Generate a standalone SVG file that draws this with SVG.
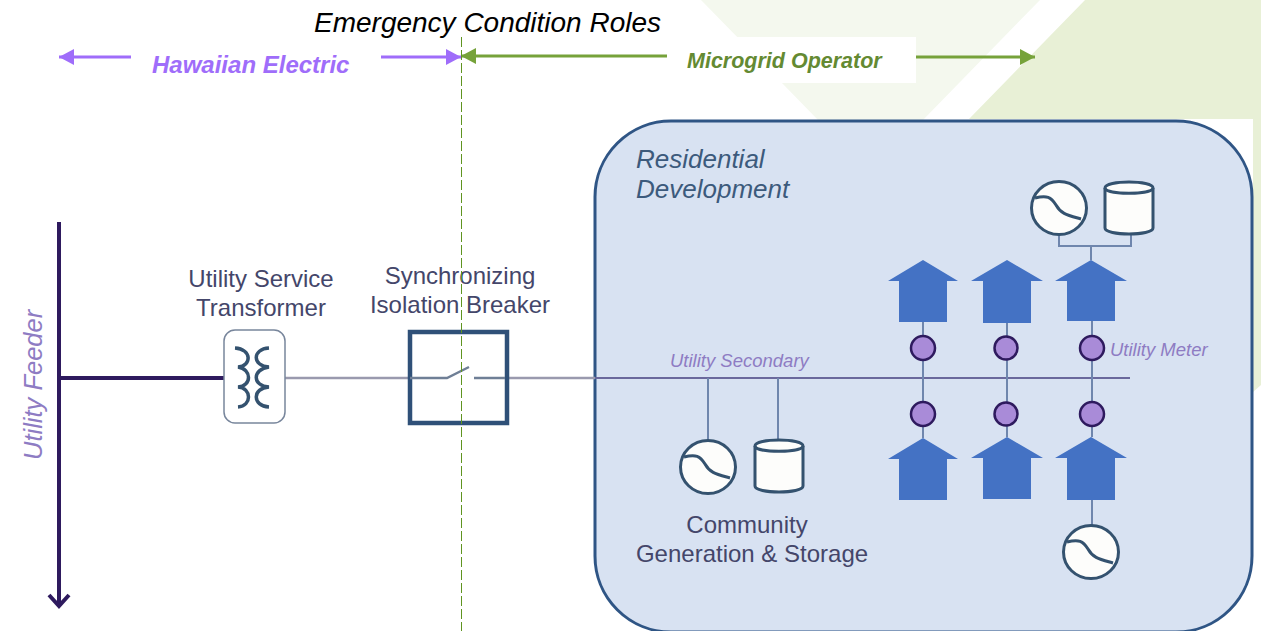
<svg xmlns="http://www.w3.org/2000/svg" width="1261" height="631" viewBox="0 0 1261 631">
<style>
text{font-family:"Liberation Sans",Arial,sans-serif}
.lbl{fill:#44466a;font-size:24px;text-anchor:middle}
.it{fill:#3c5a7c;font-size:26px;font-style:italic}
.pur{fill:#8e7cc3;font-style:italic}
.sym{fill:#fdfdfb;stroke:#34526f;stroke-width:3}
.wire{fill:none;stroke:#6f86ad;stroke-width:2}
.house{fill:#4472c4}
.meter{fill:#a98bd8;stroke:#2e1a5e;stroke-width:2.5}
.curve{fill:none;stroke:#34526f;stroke-width:3}
.coil{fill:none;stroke:#34526f;stroke-width:3.5}
</style>
<defs>
<marker id="ap" markerUnits="userSpaceOnUse" markerWidth="16" markerHeight="16" refX="15" refY="8" orient="auto-start-reverse"><path d="M0 0L15 8L0 16Z" fill="#9f6dfa"/></marker>
<marker id="ag" markerUnits="userSpaceOnUse" markerWidth="16" markerHeight="16" refX="15" refY="8" orient="auto-start-reverse"><path d="M0 0L15 8L0 16Z" fill="#76a23a"/></marker>
<symbol id="gen" overflow="visible"><ellipse class="sym" cx="0" cy="0" rx="27.500" ry="26.500"/><path class="curve" d="M-24-10C-12-13-8-11-3-3C2 6 8 7 22 11"/></symbol>
<symbol id="cyl" overflow="visible"><path class="sym" d="M-24-20C-24-28 24-28 24-20V20C24 28-24 28-24 20Z"/><path class="curve" d="M-24-20C-24-13 24-13 24-20"/></symbol>
</defs>
<rect width="1261" height="631" fill="#fff"/>
<g id="background">
<path d="M701 0H1040L923 120H818Z" fill="#f4f8ee"/>
<path d="M1085 0H1261V385L1253 392V119H969Z" fill="#e8f0d6"/>
<rect x="666" y="37" width="250" height="46" fill="#fff"/>
</g>
<g id="residential-development">
<rect x="595" y="121" width="657" height="511" rx="76" ry="76" fill="#d8e2f2" stroke="#2f5585" stroke-width="3"/>
<text class="it" x="636" y="168">Residential</text>
<text class="it" x="636" y="198">Development</text>
</g>
<g id="connectors">
<line x1="59" y1="378" x2="224" y2="378" stroke="#2e1a5e" stroke-width="4"/>
<path d="M59 222V606" fill="none" stroke="#2e1a5e" stroke-width="4"/>
<path d="M49 595L59 606L69 595" fill="none" stroke="#2e1a5e" stroke-width="4"/>
<line x1="285" y1="378" x2="408" y2="378" stroke="#9a9aae" stroke-width="2.500"/>
<line x1="509" y1="378" x2="595" y2="378" stroke="#9a9aae" stroke-width="2.500"/>
<line x1="595" y1="378" x2="1130" y2="378" stroke="#6a689c" stroke-width="2"/>
<path class="wire" d="M708 378V440M778 378V442M923 322V438M1007 323V437M1092 321V437M1092 500V526M1059 234V246H1131V234M1091 246V260"/>
<line x1="131" y1="57" x2="59" y2="57" stroke="#9f6dfa" stroke-width="3" marker-end="url(#ap)"/>
<line x1="381" y1="57" x2="461" y2="57" stroke="#9f6dfa" stroke-width="3" marker-end="url(#ap)"/>
<line x1="667" y1="56" x2="461" y2="56" stroke="#76a23a" stroke-width="3" marker-end="url(#ag)"/>
<line x1="916" y1="57" x2="1035" y2="57" stroke="#76a23a" stroke-width="3" marker-end="url(#ag)"/>
</g>
<g id="titles">
<text x="314" y="32" font-size="28" font-style="italic" fill="#000">Emergency Condition Roles</text>
<text x="152" y="73" font-size="24" font-weight="bold" font-style="italic" fill="#9f6dfa">Hawaiian Electric</text>
<text x="687" y="68" font-size="21.500" font-weight="bold" font-style="italic" fill="#648a32">Microgrid Operator</text>
</g>
<g id="utility-feeder"><text class="pur" transform="translate(42 460) rotate(-90)" font-size="25.500">Utility Feeder</text></g>
<g id="utility-service-transformer">
<text class="lbl" x="261" y="287">Utility Service</text>
<text class="lbl" x="261" y="316">Transformer</text>
<rect x="224" y="330" width="61" height="93" rx="11" fill="#fff" stroke="#78869c" stroke-width="1.500"/>
<path class="coil" d="M235 348C252 349 252 366 238 367C252 369 252 386 238 387C252 388 252 406 238 407"/>
<path class="coil" d="M269 348C252 349 252 366 269 367C252 369 252 386 269 387C252 388 252 406 269 407"/>
</g>
<g id="synchronizing-isolation-breaker">
<text class="lbl" x="460" y="284">Synchronizing</text>
<text class="lbl" x="460" y="313">Isolation Breaker</text>
<rect x="410" y="332" width="97" height="91" fill="none" stroke="#2f5078" stroke-width="4.500"/>
<path d="M410 378H447L469 367M474 378H505" fill="none" stroke="#6f7f96" stroke-width="2.500"/>
</g>
<line id="role-boundary" x1="461.500" y1="37" x2="461.500" y2="631" stroke="#5f9420" stroke-width="1" stroke-dasharray="10 3"/>
<g id="community-generation-storage">
<use href="#gen" x="708" y="467"/>
<use href="#cyl" x="779" y="466"/>
<text class="lbl" x="747" y="533">Community</text>
<text class="lbl" x="752" y="562">Generation &amp; Storage</text>
</g>
<g id="utility-secondary"><text class="pur" x="670" y="367" font-size="18.500">Utility Secondary</text></g>
<g id="utility-meter-label"><text class="pur" x="1110" y="356" font-size="18.500">Utility Meter</text></g>
<g id="house-top-1"><path class="house" d="M923 260L958 281H947V322H899V281H888Z"/></g>
<g id="house-top-2"><path class="house" d="M1007 260L1043 281H1031V323H983V281H971Z"/></g>
<g id="house-top-3"><path class="house" d="M1091 260L1127 281H1115V321H1067V281H1055Z"/></g>
<g id="house-bottom-1"><path class="house" d="M923 438L958 459H947V500H899V459H888Z"/></g>
<g id="house-bottom-2"><path class="house" d="M1007 437L1043 458H1031V499H983V458H971Z"/></g>
<g id="house-bottom-3"><path class="house" d="M1091 437L1127 458H1115V500H1067V458H1055Z"/></g>
<g id="meter-top-1"><circle class="meter" cx="923" cy="348" r="12"/></g>
<g id="meter-top-2"><circle class="meter" cx="1006" cy="348" r="11.500"/></g>
<g id="meter-top-3"><circle class="meter" cx="1092" cy="348" r="12"/></g>
<g id="meter-bottom-1"><circle class="meter" cx="923" cy="414" r="12"/></g>
<g id="meter-bottom-2"><circle class="meter" cx="1006" cy="414" r="11.500"/></g>
<g id="meter-bottom-3"><circle class="meter" cx="1092" cy="414" r="12"/></g>
<g id="home-generator"><use href="#gen" x="1059" y="208"/></g>
<g id="home-storage"><use href="#cyl" x="1129" y="208"/></g>
<g id="home-generator-2"><use href="#gen" x="1091" y="552"/></g>
</svg>
